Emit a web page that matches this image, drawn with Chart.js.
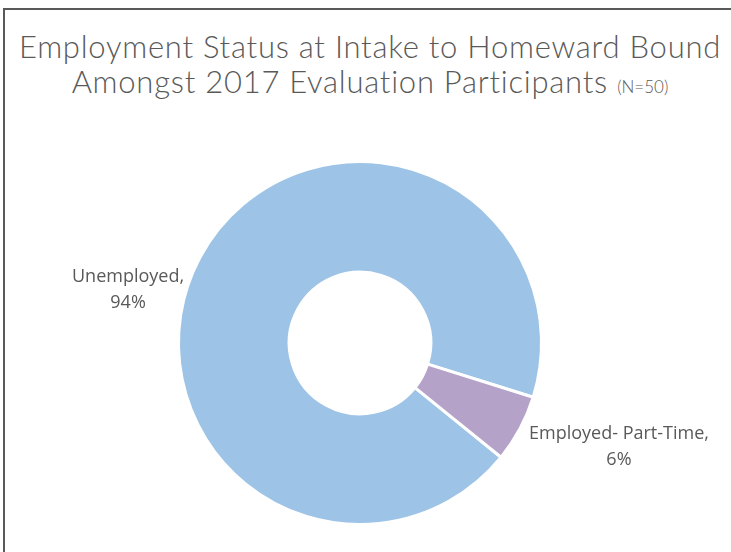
<!DOCTYPE html>
<html>
<head>
<meta charset="utf-8">
<script src="https://cdn.jsdelivr.net/npm/chart.js@4.4.1/dist/chart.umd.min.js"></script>
<style>
  html, body { margin: 0; padding: 0; background: #fff; }
  #wrap { position: relative; width: 731px; height: 552px; overflow: hidden; }
  #frame { position: absolute; left: 3px; top: 8px; width: 740px; height: 560px;
    border-left: 2px solid #595959; border-top: 2px solid #595959; }
  #title { position: absolute; left: 0; top: 29px; width: 740px; text-align: center;
    font-family: "Lato", sans-serif; font-weight: 300; color: #595959;
    font-size: 31px; line-height: 35px; letter-spacing: 0.75px; }
  #title small { font-size: 17px; letter-spacing: 0; }
  canvas { position: absolute; left: 0; top: 0; }
</style>
</head>
<body>
<div id="wrap">
  <div id="frame"></div>
  <div id="title">Employment Status at Intake to Homeward Bound<br>Amongst 2017 Evaluation Participants <small>(N=50)</small></div>
  <canvas id="donut" width="731" height="552"></canvas>
</div>
<script>
// categories and values (% of participants)
const categories = ['Unemployed', 'Employed- Part-Time'];
const percents = [94, 6];
const colors = ['#9DC3E6', '#B4A2C8'];

// label placement relative to the outer edge of each slice
const labelOffsets = [[-72, 33], [99, 18]];

const sliceLabels = {
  id: 'sliceLabels',
  afterDraw(chart) {
    const ctx = chart.ctx;
    const meta = chart.getDatasetMeta(0);
    ctx.save();
    ctx.font = '18px "Open Sans", sans-serif';
    ctx.fillStyle = '#595959';
    ctx.textAlign = 'center';
    ctx.textBaseline = 'middle';
    meta.data.forEach((arc, i) => {
      const mid = (arc.startAngle + arc.endAngle) / 2;
      const x = arc.x + Math.cos(mid) * arc.outerRadius + labelOffsets[i][0];
      const y = arc.y + Math.sin(mid) * arc.outerRadius + labelOffsets[i][1];
      ctx.fillText(categories[i] + ',', x, y - 13);
      ctx.fillText(percents[i] + '%', x, y + 13);
    });
    ctx.restore();
  }
};

new Chart(document.getElementById('donut'), {
  type: 'doughnut',
  data: {
    labels: categories,
    datasets: [{
      data: percents,
      backgroundColor: colors,
      borderColor: '#ffffff',
      borderWidth: 3
    }]
  },
  options: {
    responsive: false,
    animation: false,
    rotation: 129,
    cutout: '39%',
    layout: { padding: { top: 160, bottom: 26, left: 0, right: 11 } },
    plugins: {
      legend: { display: false },
      tooltip: { enabled: false },
      title: { display: false }
    }
  },
  plugins: [sliceLabels]
});
</script>
</body>
</html>
